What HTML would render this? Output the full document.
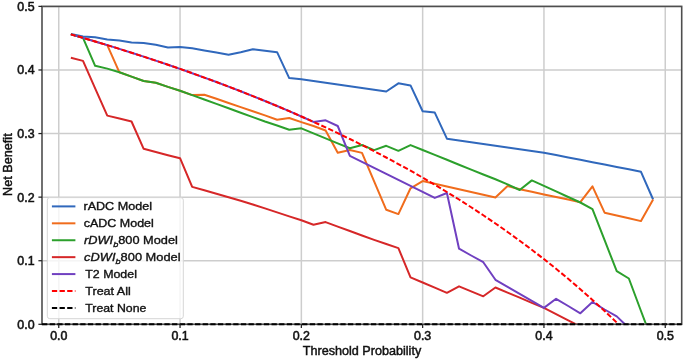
<!DOCTYPE html>
<html><head><meta charset="utf-8"><style>
html,body{margin:0;padding:0;background:#fff;width:685px;height:360px;overflow:hidden;}
svg{display:block;filter:blur(0.35px);}
text{font-family:"Liberation Sans", sans-serif;}
</style></head><body>
<svg width="685" height="360" viewBox="0 0 685 360">
<defs><clipPath id="c"><rect x="42.0" y="6.4" width="639.7" height="317.90000000000003"/></clipPath></defs>
<g stroke="#cdcdcd" stroke-width="1.5"><line x1="58.75" y1="6.4" x2="58.75" y2="324.3"/><line x1="180.05" y1="6.4" x2="180.05" y2="324.3"/><line x1="301.35" y1="6.4" x2="301.35" y2="324.3"/><line x1="422.65" y1="6.4" x2="422.65" y2="324.3"/><line x1="543.95" y1="6.4" x2="543.95" y2="324.3"/><line x1="665.25" y1="6.4" x2="665.25" y2="324.3"/><line x1="42.0" y1="324.30" x2="681.7" y2="324.30"/><line x1="42.0" y1="260.72" x2="681.7" y2="260.72"/><line x1="42.0" y1="197.14" x2="681.7" y2="197.14"/><line x1="42.0" y1="133.56" x2="681.7" y2="133.56"/><line x1="42.0" y1="69.98" x2="681.7" y2="69.98"/><line x1="42.0" y1="6.40" x2="681.7" y2="6.40"/></g>
<g clip-path="url(#c)" fill="none" stroke-width="2.0" stroke-linejoin="round">
<path d="M70.88,34.10 L83.01,36.60 L95.14,37.30 L107.27,39.40 L119.40,40.40 L131.53,42.50 L143.66,43.00 L155.79,44.80 L167.92,47.40 L180.05,46.90 L192.18,48.30 L204.31,50.40 L216.44,52.50 L228.57,54.80 L240.70,52.20 L252.83,49.20 L264.96,50.80 L277.09,52.20 L289.22,78.10 L301.35,79.30 L313.48,81.00 L325.61,82.80 L337.74,84.50 L349.87,86.30 L362.00,88.00 L374.13,89.70 L386.26,91.50 L398.39,83.30 L410.52,85.40 L422.65,111.20 L434.78,112.60 L446.91,138.70 L459.04,140.50 L471.17,142.20 L483.30,144.00 L495.43,145.70 L507.56,147.50 L519.69,149.30 L531.82,151.00 L543.95,152.70 L556.08,155.00 L568.21,157.40 L580.34,159.80 L592.47,162.20 L604.60,164.50 L616.73,166.90 L628.86,169.30 L640.99,171.80 L653.12,199.50" stroke="#3068bc" />
<path d="M70.88,34.34 L83.01,37.87 L95.14,41.47 L107.27,45.14 L119.40,72.30 L131.53,76.60 L143.66,81.00 L155.79,82.80 L167.92,86.90 L180.05,90.70 L192.18,95.10 L204.31,94.70 L216.44,98.80 L228.57,103.00 L240.70,107.10 L252.83,111.30 L264.96,115.40 L277.09,119.70 L289.22,118.00 L301.35,122.10 L313.48,126.00 L325.61,130.50 L337.74,152.70 L349.87,150.00 L362.00,152.90 L374.13,181.30 L386.26,209.80 L398.39,214.10 L410.52,188.30 L422.65,181.10 L434.78,183.80 L446.91,186.50 L459.04,189.30 L471.17,192.00 L483.30,194.70 L495.43,197.40 L507.56,186.00 L519.69,189.20 L531.82,191.80 L543.95,194.40 L556.08,197.00 L568.21,199.60 L580.34,202.20 L592.47,186.40 L604.60,212.70 L616.73,215.50 L628.86,218.30 L640.99,221.10 L653.12,199.50" stroke="#f06c1c" />
<path d="M70.88,34.34 L83.01,37.87 L95.14,65.80 L107.27,68.60 L119.40,72.30 L131.53,76.60 L143.66,81.00 L155.79,82.80 L167.92,86.90 L180.05,90.70 L192.18,95.10 L204.31,99.50 L216.44,103.90 L228.57,108.30 L240.70,112.70 L252.83,117.10 L264.96,121.50 L277.09,125.50 L289.22,129.80 L301.35,128.30 L313.48,133.30 L325.61,138.30 L337.74,143.30 L349.87,148.20 L362.00,145.00 L374.13,150.10 L386.26,145.80 L398.39,150.80 L410.52,145.10 L422.65,150.00 L434.78,154.90 L446.91,159.80 L459.04,164.70 L471.17,169.60 L483.30,174.50 L495.43,179.30 L507.56,184.30 L519.69,190.00 L531.82,180.40 L543.95,185.80 L556.08,191.40 L568.21,197.00 L580.34,202.50 L592.47,209.20 L604.60,240.20 L616.73,271.20 L628.86,278.50 L640.99,311.00 L653.12,343.00" stroke="#2ca02c" />
<path d="M70.88,57.80 L83.01,60.90 L95.14,88.30 L107.27,115.60 L119.40,118.50 L131.53,121.50 L143.66,148.80 L155.79,152.00 L167.92,155.20 L180.05,158.20 L192.18,186.90 L204.31,190.30 L216.44,193.80 L228.57,197.30 L240.70,200.80 L252.83,204.50 L264.96,208.40 L277.09,212.40 L289.22,216.40 L301.35,220.30 L313.48,224.80 L325.61,222.10 L337.74,226.60 L349.87,231.00 L362.00,235.50 L374.13,239.90 L386.26,244.00 L398.39,248.10 L410.52,277.40 L422.65,282.50 L434.78,287.70 L446.91,292.80 L459.04,286.30 L471.17,291.30 L483.30,296.30 L495.43,287.50 L507.56,292.60 L519.69,297.70 L531.82,302.80 L543.95,307.90 L556.08,314.10 L568.21,320.30 L580.34,326.50 L592.47,332.70" stroke="#d62728" />
<path d="M70.88,34.34 L83.01,37.87 L95.14,41.47 L107.27,45.14 L119.40,48.90 L131.53,52.73 L143.66,56.65 L155.79,60.65 L167.92,64.74 L180.05,68.92 L192.18,73.19 L204.31,77.57 L216.44,82.04 L228.57,86.61 L240.70,91.30 L252.83,96.09 L264.96,101.00 L277.09,106.03 L289.22,111.19 L301.35,116.47 L313.48,121.89 L325.61,120.30 L337.74,126.00 L349.87,155.80 L362.00,161.80 L374.13,167.80 L386.26,173.80 L398.39,179.80 L410.52,185.80 L422.65,191.90 L434.78,197.90 L446.91,193.00 L459.04,248.70 L471.17,255.50 L483.30,262.20 L495.43,279.80 L507.56,286.80 L519.69,293.80 L531.82,300.90 L543.95,307.90 L556.08,298.80 L568.21,306.00 L580.34,313.30 L592.47,302.00 L604.60,309.50 L616.73,316.40 L628.86,328.00" stroke="#7040c0" />
<path d="M70.88,34.34 L83.01,37.87 L95.14,41.47 L107.27,45.14 L119.40,48.90 L131.53,52.73 L143.66,56.65 L155.79,60.65 L167.92,64.74 L180.05,68.92 L192.18,73.19 L204.31,77.57 L216.44,82.04 L228.57,86.61 L240.70,91.30 L252.83,96.09 L264.96,101.00 L277.09,106.03 L289.22,111.19 L301.35,116.47 L313.48,121.89 L325.61,127.45 L337.74,133.15 L349.87,139.00 L362.00,145.00 L374.13,151.17 L386.26,157.51 L398.39,164.03 L410.52,170.72 L422.65,177.61 L434.78,184.70 L446.91,192.00 L459.04,199.51 L471.17,207.26 L483.30,215.24 L495.43,223.47 L507.56,231.96 L519.69,240.72 L531.82,249.78 L543.95,259.13 L556.08,268.80 L568.21,278.81 L580.34,289.16 L592.47,299.89 L604.60,311.01 L616.73,322.53 L628.86,334.50 L640.99,346.92 L653.12,359.83" stroke="#ff0000" stroke-dasharray="5.29 2.347" stroke-dashoffset="0.5"/>
</g>
<rect x="42.0" y="6.4" width="639.7" height="317.90000000000003" fill="none" stroke="#4e4e4e" stroke-width="1.6"/>
<line x1="42.0" y1="324.3" x2="681.7" y2="324.3" stroke="#000" stroke-width="2" stroke-dasharray="5.3 2.35"/>
<g stroke="#222" stroke-width="1.25"><line x1="58.75" y1="324.3" x2="58.75" y2="327.90000000000003"/><line x1="180.05" y1="324.3" x2="180.05" y2="327.90000000000003"/><line x1="301.35" y1="324.3" x2="301.35" y2="327.90000000000003"/><line x1="422.65" y1="324.3" x2="422.65" y2="327.90000000000003"/><line x1="543.95" y1="324.3" x2="543.95" y2="327.90000000000003"/><line x1="665.25" y1="324.3" x2="665.25" y2="327.90000000000003"/><line x1="38.4" y1="324.30" x2="42.0" y2="324.30"/><line x1="38.4" y1="260.72" x2="42.0" y2="260.72"/><line x1="38.4" y1="197.14" x2="42.0" y2="197.14"/><line x1="38.4" y1="133.56" x2="42.0" y2="133.56"/><line x1="38.4" y1="69.98" x2="42.0" y2="69.98"/><line x1="38.4" y1="6.40" x2="42.0" y2="6.40"/></g>
<g font-size="12.4" fill="#111" stroke="#111" stroke-width="0.55"><text x="58.75" y="340.3" text-anchor="middle">0.0</text><text x="180.05" y="340.3" text-anchor="middle">0.1</text><text x="301.35" y="340.3" text-anchor="middle">0.2</text><text x="422.65" y="340.3" text-anchor="middle">0.3</text><text x="543.95" y="340.3" text-anchor="middle">0.4</text><text x="665.25" y="340.3" text-anchor="middle">0.5</text><text x="34.6" y="328.70" text-anchor="end">0.0</text><text x="34.6" y="265.12" text-anchor="end">0.1</text><text x="34.6" y="201.54" text-anchor="end">0.2</text><text x="34.6" y="137.96" text-anchor="end">0.3</text><text x="34.6" y="74.38" text-anchor="end">0.4</text><text x="34.6" y="10.80" text-anchor="end">0.5</text></g>
<text x="362" y="354.6" text-anchor="middle" font-size="12.4" fill="#111" stroke="#111" stroke-width="0.45" textLength="118.5" lengthAdjust="spacingAndGlyphs">Threshold Probability</text>
<text transform="translate(11.9,164.6) rotate(-90)" x="0" y="0" text-anchor="middle" font-size="12.4" fill="#111" stroke="#111" stroke-width="0.45" textLength="62.6" lengthAdjust="spacingAndGlyphs">Net Benefit</text>
<rect x="47.3" y="197.6" width="136.0" height="121.1" rx="2.5" fill="#fff" fill-opacity="0.8" stroke="#d6d6d6" stroke-width="1"/>
<line x1="51.9" y1="206.40" x2="75.4" y2="206.40" stroke="#3068bc" stroke-width="2" />
<text transform="translate(83.46,210.40) scale(1.1237,1)" x="0" y="0" font-size="11.2" fill="#111" stroke="#111" stroke-width="0.35">rADC Model</text>
<line x1="51.9" y1="223.32" x2="75.4" y2="223.32" stroke="#f06c1c" stroke-width="2" />
<text transform="translate(83.67,227.32) scale(1.1180,1)" x="0" y="0" font-size="11.2" fill="#111" stroke="#111" stroke-width="0.35">cADC Model</text>
<line x1="51.9" y1="240.24" x2="75.4" y2="240.24" stroke="#2ca02c" stroke-width="2" />
<text transform="translate(84.10,244.24) scale(1.1409,1)" x="0" y="0" font-size="11.2" fill="#111" stroke="#111" stroke-width="0.35"><tspan font-style="italic">rDWI</tspan><tspan font-style="italic" font-size="8" dy="2.6">b</tspan><tspan dy="-2.6">800 Model</tspan></text>
<line x1="51.9" y1="257.16" x2="75.4" y2="257.16" stroke="#d62728" stroke-width="2" />
<text transform="translate(84.10,261.16) scale(1.1470,1)" x="0" y="0" font-size="11.2" fill="#111" stroke="#111" stroke-width="0.35"><tspan font-style="italic">cDWI</tspan><tspan font-style="italic" font-size="8" dy="2.6">b</tspan><tspan dy="-2.6">800 Model</tspan></text>
<line x1="51.9" y1="274.08" x2="75.4" y2="274.08" stroke="#7040c0" stroke-width="2" />
<text transform="translate(85.29,278.08) scale(1.1065,1)" x="0" y="0" font-size="11.2" fill="#111" stroke="#111" stroke-width="0.35">T2 Model</text>
<line x1="51.9" y1="291.00" x2="75.4" y2="291.00" stroke="#ff0000" stroke-width="2" stroke-dasharray="5.3 2.35"/>
<text transform="translate(85.29,295.00) scale(1.1200,1)" x="0" y="0" font-size="11.2" fill="#111" stroke="#111" stroke-width="0.35">Treat All</text>
<line x1="51.9" y1="307.92" x2="75.4" y2="307.92" stroke="#000000" stroke-width="2" stroke-dasharray="5.3 2.35"/>
<text transform="translate(85.29,311.92) scale(1.0982,1)" x="0" y="0" font-size="11.2" fill="#111" stroke="#111" stroke-width="0.35">Treat None</text>
</svg>
</body></html>
